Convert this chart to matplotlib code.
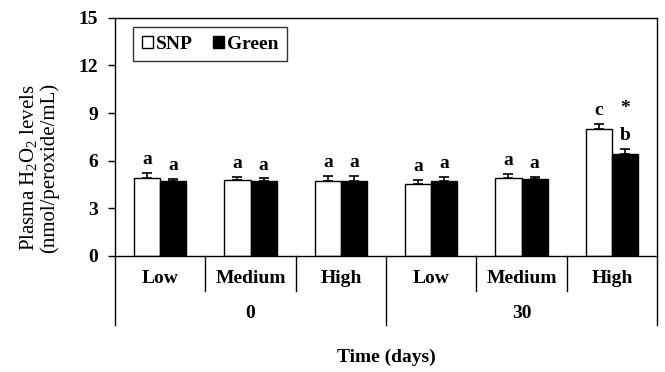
import numpy as np
import matplotlib
matplotlib.use("Agg")
import matplotlib.pyplot as plt
from matplotlib.patches import Patch

plt.rcParams['font.family'] = ['Liberation Serif', 'DejaVu Serif']
plt.rcParams['mathtext.fontset'] = 'custom'
plt.rcParams['mathtext.rm'] = 'Liberation Serif'
plt.rcParams['mathtext.it'] = 'Liberation Serif:italic'
plt.rcParams['mathtext.bf'] = 'Liberation Serif:bold'

doses = ["Low", "Medium", "High", "Low", "Medium", "High"]
days = ["0", "30"]
snp = [4.94, 4.80, 4.73, 4.54, 4.90, 7.99]
snp_err = [0.30, 0.18, 0.33, 0.23, 0.25, 0.32]
green = [4.69, 4.75, 4.73, 4.69, 4.84, 6.43]
green_err = [0.17, 0.13, 0.33, 0.28, 0.14, 0.32]
snp_labels = ["a", "a", "a", "a", "a", "c"]
green_labels = ["a", "a", "a", "a", "a", "b"]

fig = plt.figure(figsize=(6.65, 3.72), dpi=100)
ax = fig.add_axes([0.173, 0.312, 0.815, 0.640])

x = np.arange(len(doses))
w = 0.29
off = 0.145
ekw = dict(elinewidth=1.2, capthick=1.2)
ax.bar(x - off, snp, w, color="white", edgecolor="black", linewidth=1.0,
       yerr=[np.zeros(6), snp_err], capsize=3.5, error_kw=ekw, label="SNP")
ax.bar(x + off, green, w, color="black", edgecolor="black", linewidth=1.0,
       yerr=[np.zeros(6), green_err], capsize=3.5, error_kw=ekw, label="Green")

for i in range(len(doses)):
    ax.text(x[i] - off, snp[i] + snp_err[i] + 0.3, snp_labels[i], ha="center",
            va="bottom", fontsize=14, fontweight="bold")
    ax.text(x[i] + off, green[i] + green_err[i] + 0.3, green_labels[i], ha="center",
            va="bottom", fontsize=14, fontweight="bold")
# significance mark
ax.text(x[5] + off, green[5] + green_err[5] + 2.0, "*", ha="center", va="bottom",
        fontsize=14, fontweight="bold")

ax.set_xlim(-0.5, 5.5)
ax.set_ylim(0, 15)
ax.set_yticks([0, 3, 6, 9, 12, 15])
ax.tick_params(axis="y", direction="out", length=5, width=1, labelsize=14, pad=7)
for t in ax.get_yticklabels():
    t.set_fontweight("bold")
ax.set_xticks([])
for s in ax.spines.values():
    s.set_linewidth(1.0)

# category labels below the axis
trans = ax.get_xaxis_transform()
for i, d in enumerate(doses):
    ax.text(x[i], -0.095, d, transform=trans, ha="center", va="center",
            fontsize=14, fontweight="bold")
for j, d in enumerate(days):
    ax.text(1 + 3 * j, -0.24, d, transform=trans, ha="center", va="center",
            fontsize=14, fontweight="bold")

# separators
for b in [0.5, 1.5, 3.5, 4.5]:
    ax.plot([b, b], [0, -0.147], transform=trans, color="black", lw=1.0, clip_on=False)
for b in [-0.5, 2.5, 5.5]:
    ax.plot([b, b], [0, -0.29], transform=trans, color="black", lw=1.0, clip_on=False)

ax.text(2.5, -0.425, "Time (days)", transform=trans, ha="center", va="center",
        fontsize=14, fontweight="bold")

ax.set_ylabel("Plasma H$_2$O$_2$ levels\n(nmol/peroxide/mL)", fontsize=15,
              linespacing=1.0)
ax.yaxis.set_label_coords(-0.104, 0.37)

handles = [Patch(facecolor="white", edgecolor="black", label="SNP"),
           Patch(facecolor="black", edgecolor="black", label="Green")]
leg = ax.legend(handles=handles, loc="upper left", ncol=2, frameon=True,
                fancybox=False, edgecolor="black", handlelength=0.6,
                handleheight=0.6, handletextpad=0.15, columnspacing=1.0,
                borderpad=0.45, borderaxespad=0, bbox_to_anchor=(0.033, 0.962),
                prop={"weight": "bold", "size": 14})
leg.get_frame().set_linewidth(1.0)

fig.savefig("out.png", dpi=100)
